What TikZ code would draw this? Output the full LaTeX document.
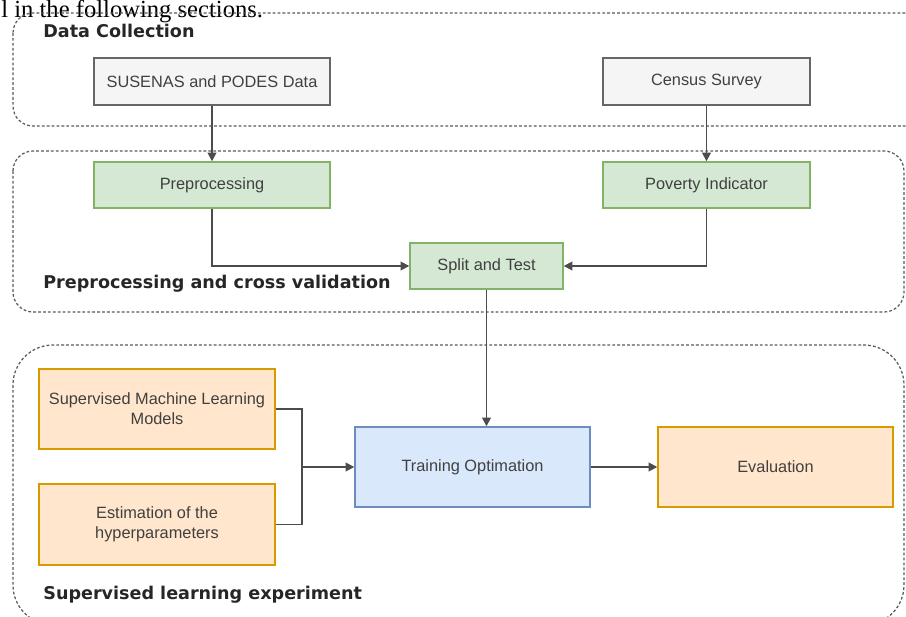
\documentclass[tikz,border=0pt]{standalone}
\usepackage{fontspec}
\setmainfont{Liberation Sans}
\newfontfamily\grpfont{DejaVu Sans}
\newfontfamily\bodyfont{Liberation Serif}
\usepackage{tikz}
\usetikzlibrary{arrows.meta}
\tikzset{>={Triangle[length=5pt,width=5pt]}}
\usetikzlibrary{positioning}
\definecolor{grayfill}{HTML}{F5F5F5}
\definecolor{grayline}{HTML}{666666}
\definecolor{greenfill}{HTML}{D5E8D4}
\definecolor{greenline}{HTML}{82B366}
\definecolor{bluefill}{HTML}{DAE8FC}
\definecolor{blueline}{HTML}{6C8EBF}
\definecolor{orangefill}{HTML}{FFE6CC}
\definecolor{orangeline}{HTML}{D79B00}
\tikzset{
    box/.style={draw, line width=0.8pt, inner sep=0pt, align=center,
        font=\fontsize{9.3}{11.5}\selectfont, text=black!75},
    graybox/.style={box, draw=grayline, fill=grayfill, minimum height=0.94cm},
    greenbox/.style={box, draw=greenline, fill=greenfill, minimum height=0.92cm},
    bluebox/.style={box, draw=blueline, fill=bluefill, minimum height=1.6cm},
    orangebox/.style={box, draw=orangeline, fill=orangefill, minimum height=1.6cm},
    group/.style={draw=black!65, line width=0.7pt, dash pattern=on 1.6pt off 1.2pt},
    grplabel/.style={anchor=west, inner sep=0pt, text=black!85,
        font=\grpfont\bfseries\fontsize{10}{12}\selectfont},
    link/.style={draw=black!70, line width=1pt}
}

\begin{document}
\begin{tikzpicture}[]
    \useasboundingbox (0,0) rectangle (18.12,-12.32);
    \clip (0,0) rectangle (18.12,-12.32);
    \node[anchor=base west, inner sep=0pt, font=\bodyfont\fontsize{14}{16}\selectfont] at (0.02,-0.35) (intro) {l in the following sections.};
    % groups
    \draw[group, rounded corners=0.4cm] (0.26,-0.26) rectangle (18.6,-2.52);
    \draw[group, rounded corners=0.4cm] (0.26,-3.02) rectangle (18.08,-6.24);
    \draw[group, rounded corners=0.8cm] (0.26,-6.90) rectangle (18.08,-12.5);
    \node[grplabel] at (0.86,-0.62) (datalbl) {Data Collection};
    \node[grplabel] at (0.86,-5.68) (preplbl) {Preprocessing and cross validation};
    \node[grplabel] at (0.86,-11.90) (suplbl) {Supervised learning experiment};
    % boxes
    \node[graybox, minimum width=4.72cm] at (4.24,-1.63) (susenas) {SUSENAS and PODES Data};
    \node[graybox, minimum width=4.14cm] at (14.13,-1.63) (census) {Census Survey};
    \node[greenbox, minimum width=4.72cm] at (4.24,-3.70) (prep) {Preprocessing};
    \node[greenbox, minimum width=4.14cm] at (14.13,-3.70) (poverty) {Poverty Indicator};
    \node[greenbox, minimum width=3.06cm] at (9.73,-5.32) (split) {Split and Test};
    \node[orangebox, minimum width=4.72cm] at (3.14,-8.18) (models) {Supervised Machine Learning\\Models};
    \node[orangebox, minimum width=4.72cm, minimum height=1.62cm] at (3.14,-10.49) (hyper) {Estimation of the\\hyperparameters};
    \node[bluebox, minimum width=4.70cm] at (9.45,-9.34) (train) {Training Optimation};
    \node[orangebox, minimum width=4.70cm] at (15.51,-9.34) (eval) {Evaluation};
    \coordinate (merge) at (6.04,-9.34);
    % connectors
    \draw[link, ->] (susenas) -- (prep);
    \draw[link, ->] (census) -- (poverty);
    \draw[link, ->] (prep.south) |- (split.west);
    \draw[link, ->] (poverty.south) |- (split.east);
    \draw[link, ->] (split.south) -- (split.south |- train.north);
    \draw[link] (models.east) -| (merge);
    \draw[link] (hyper.east) -| (merge);
    \draw[link, ->] (merge) -- (train.west);
    \draw[link, ->] (train) -- (eval);
\end{tikzpicture}
\end{document}
